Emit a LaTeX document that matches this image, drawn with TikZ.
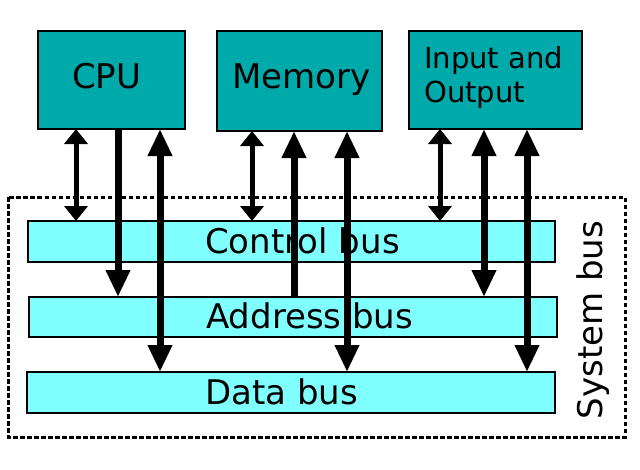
\documentclass[tikz,border=0pt]{standalone}
\usepackage{fontspec}
\setmainfont{DejaVu Sans}
\usetikzlibrary{arrows.meta}
\definecolor{unitfill}{RGB}{0,170,170}
\definecolor{busfill}{RGB}{128,255,255}
\begin{document}
\begin{tikzpicture}[x=1pt, y=-1pt,
    unit/.style={draw, line width=2.5pt, fill=unitfill, outer sep=0pt, inner sep=0pt},
    bus/.style={draw, line width=2.5pt, fill=busfill, outer sep=0pt, inner sep=0pt},
    txt/.style={anchor=base west, inner sep=0pt, font=\fontsize{34}{40}\selectfont},
    ctrltip/.tip={Triangle[length=15pt, width=23pt]},
    bustip/.tip={Triangle[length=27pt, width=23pt]},
    ctrlarrow/.style={line width=5pt, ctrltip-ctrltip},
    busarrow/.style={line width=7pt}]
      \useasboundingbox (0, 0) rectangle (640, 469);

      \draw [line width=3pt, dash pattern=on 4.5pt off 2.5pt] (8, 197) rectangle (625, 437);

      \node [unit, minimum width=147pt, minimum height=98pt] (cpu) at (111.5, 80) {};
      \node [unit, minimum width=165pt, minimum height=100pt] (mem) at (299.5, 81) {};
      \node [unit, minimum width=173pt, minimum height=98pt] (io) at (495.5, 80) {};
      \node [txt] (cpulabel) at (72, 88) {CPU};
      \node [txt] (memlabel) at (232, 88) {Memory};
      \node [txt, font=\fontsize{29}{34}\selectfont, align=left, anchor=north west] (iolabel) at (424, 46) {Input and\\Output};

      \node [bus, minimum width=527pt, minimum height=41pt] (ctrl) at (291.5, 241.5) {};
      \node [bus, minimum width=528pt, minimum height=40pt] (addr) at (293, 317) {};
      \node [bus, minimum width=528pt, minimum height=41pt] (data) at (291, 392.5) {};
      \node [txt] (ctrllabel) at (205, 253) {Control bus};
      \node [txt] (addrlabel) at (206, 328) {Address bus};
      \node [txt] (datalabel) at (205, 404) {Data bus};
      \node [txt, anchor=base, rotate=90] (syslabel) at (602, 320) {System bus};

      \draw [ctrlarrow] (76, 0 |- cpu.south) -- (76, 0 |- ctrl.north);
      \draw [busarrow, -bustip] (118, 0 |- cpu.south) -- (118, 0 |- addr.north);
      \draw [busarrow, bustip-bustip] (160, 0 |- cpu.south) -- (160, 0 |- data.north);

      \draw [ctrlarrow] (252, 0 |- mem.south) -- (252, 0 |- ctrl.north);
      \draw [busarrow, bustip-] (294, 0 |- mem.south) -- (294, 0 |- addr.north);
      \draw [busarrow, bustip-bustip] (347, 0 |- mem.south) -- (347, 0 |- data.north);

      \draw [ctrlarrow] (440, 0 |- io.south) -- (440, 0 |- ctrl.north);
      \draw [busarrow, bustip-bustip] (484, 0 |- io.south) -- (484, 0 |- addr.north);
      \draw [busarrow, bustip-bustip] (527, 0 |- io.south) -- (527, 0 |- data.north);
    \end{tikzpicture}
\end{document}
